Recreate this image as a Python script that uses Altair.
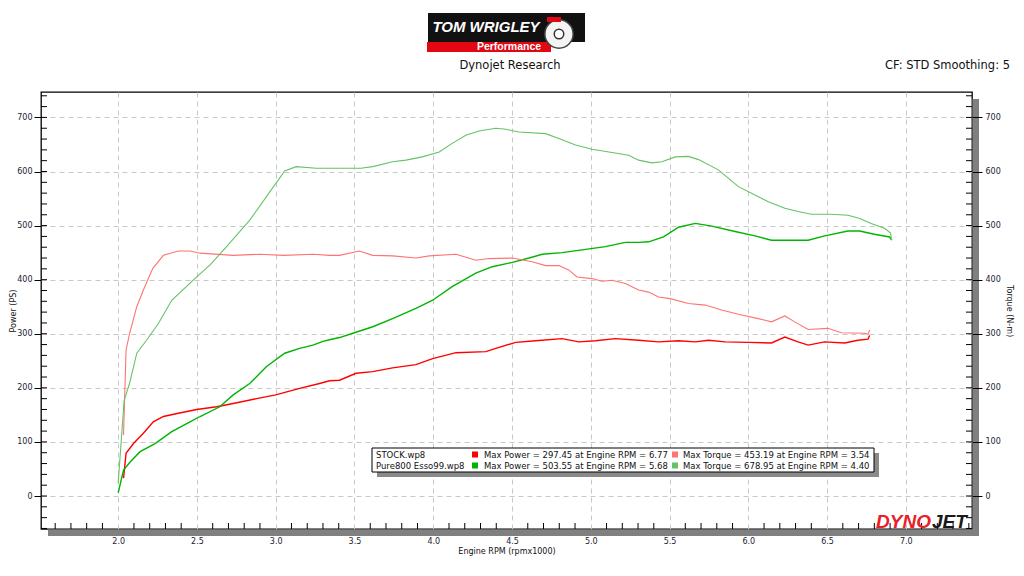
import altair as alt
import pandas as pd

# ---------------- data ----------------
series_names = ["STOCK Power", "Pure800 Power", "STOCK Torque", "Pure800 Torque"]
series_colors = ["#ff0000", "#00b400", "#ff7373", "#66c266"]

stock_power_rpm = [2.034, 2.05, 2.097, 2.16, 2.223, 2.287, 2.382, 2.498, 2.625, 2.73, 2.878, 3.0,
                   3.152, 3.278, 3.342, 3.405, 3.51, 3.616, 3.742, 3.89, 3.996, 4.144, 4.334, 4.397,
                   4.523, 4.65, 4.818, 4.924, 5.03, 5.156, 5.304, 5.43, 5.557, 5.663, 5.747, 5.853,
                   6.0, 6.147, 6.232, 6.316, 6.38, 6.485, 6.612, 6.696, 6.76, 6.77]
stock_power = [33, 79, 97, 116, 137, 147, 153, 160, 165, 171, 180, 187,
               199, 208, 213, 214, 227, 230, 237, 243, 254, 265, 267, 273,
               284, 287, 291, 285, 287, 291, 288, 285, 287, 285, 288, 285,
               284, 283, 294, 285, 279, 285, 283, 288, 290, 297]

stock_torque_rpm = [2.034, 2.05, 2.072, 2.118, 2.16, 2.22, 2.287, 2.382, 2.456, 2.52, 2.73, 2.90,
                    3.05, 3.24, 3.342, 3.405, 3.53, 3.616, 3.742, 3.89, 3.975, 4.144, 4.27, 4.354,
                    4.502, 4.628, 4.713, 4.797, 4.86, 4.913, 5.008, 5.07, 5.135, 5.22, 5.304, 5.367,
                    5.43, 5.504, 5.62, 5.726, 5.831, 5.937, 6.063, 6.147, 6.232, 6.295, 6.38, 6.506,
                    6.59, 6.738, 6.76, 6.77]
stock_torque = [113, 270, 300, 350, 381, 421, 445, 453, 453, 449, 445, 447,
                445, 447, 445, 445, 453, 445, 444, 440, 444, 447, 436, 439,
                440, 433, 426, 426, 418, 405, 402, 397, 399, 393, 381, 377,
                368, 365, 356, 353, 344, 336, 328, 322, 333, 322, 308, 310,
                302, 301, 299, 307]

pure_power_rpm = [2.0, 2.034, 2.076, 2.139, 2.234, 2.34, 2.456, 2.52, 2.645, 2.73, 2.835, 2.94,
                  3.057, 3.152, 3.236, 3.30, 3.342, 3.405, 3.49, 3.616, 3.742, 3.89, 3.996, 4.12,
                  4.27, 4.375, 4.502, 4.608, 4.692, 4.818, 4.945, 5.093, 5.22, 5.304, 5.367, 5.462,
                  5.557, 5.663, 5.768, 5.916, 6.042, 6.147, 6.38, 6.485, 6.633, 6.707, 6.80, 6.897, 6.91]
pure_power = [6, 48, 63, 82, 97, 119, 137, 147, 165, 187, 208, 239,
              264, 273, 279, 286, 289, 293, 301, 313, 328, 347, 362, 387,
              412, 424, 432, 440, 447, 450, 455, 461, 469, 469, 470, 479,
              497, 504, 499, 489, 481, 473, 473, 481, 490, 490, 484, 479, 473]

pure_torque_rpm = [2.0, 2.038, 2.072, 2.118, 2.18, 2.255, 2.34, 2.498, 2.582, 2.688, 2.835, 2.94,
                   3.057, 3.13, 3.258, 3.405, 3.54, 3.616, 3.742, 3.827, 3.93, 4.038, 4.12, 4.207,
                   4.29, 4.397, 4.46, 4.544, 4.713, 4.797, 4.903, 5.008, 5.135, 5.24, 5.304, 5.388,
                   5.452, 5.536, 5.62, 5.684, 5.81, 5.937, 6.02, 6.127, 6.232, 6.316, 6.40, 6.527,
                   6.633, 6.707, 6.78, 6.865, 6.903, 6.91]
pure_torque = [24, 177, 208, 264, 288, 319, 362, 405, 427, 461, 510, 553,
               601, 609, 606, 606, 606, 609, 618, 621, 627, 636, 652, 667,
               675, 680, 678, 673, 670, 661, 649, 641, 635, 630, 621, 616,
               618, 627, 628, 622, 603, 572, 560, 544, 532, 526, 521, 521,
               519, 513, 504, 495, 486, 473]

run_files = ["STOCK.wp8", "Pure800 Esso99.wp8"]
max_power = [297.45, 503.55]
max_power_rpm = [6.77, 5.68]
max_torque = [453.19, 678.95]
max_torque_rpm = [3.54, 4.40]

x_tick_values = [2.0, 2.5, 3.0, 3.5, 4.0, 4.5, 5.0, 5.5, 6.0, 6.5, 7.0]
y_tick_values = [0, 100, 200, 300, 400, 500, 600, 700]
x_minor = [k / 10 for k in range(16, 75) if k % 5 != 0]
y_minor = [k * 20 for k in range(-3, 38)]

# ---------------- layout ----------------
W, H = 931, 437
XDOM = [1.51, 7.42]
YDOM = [-61, 747]
FONT = "DejaVu Sans"
BOLD = "Liberation Sans"
LABEL_COLOR = "#1b1b33"

xscale = alt.Scale(domain=XDOM, nice=False, zero=False)
yscale = alt.Scale(domain=YDOM, nice=False, zero=False)
color_scale = alt.Scale(domain=series_names, range=series_colors)


def frame(rpm, vals, name):
    return pd.DataFrame({"rpm": rpm, "value": vals, "series": name})


power_df = pd.concat([frame(stock_power_rpm, stock_power, series_names[0]),
                      frame(pure_power_rpm, pure_power, series_names[1])])
torque_df = pd.concat([frame(stock_torque_rpm, stock_torque, series_names[2]),
                       frame(pure_torque_rpm, pure_torque, series_names[3])])

x_axis = alt.Axis(values=x_tick_values, format=".1f", grid=True, gridDash=[5, 4],
                  gridColor="#c8c8c8", gridWidth=1, ticks=False, domain=False,
                  labelPadding=8, labelFlush=False, title="Engine RPM (rpmx1000)",
                  titlePadding=2)

left_axis = alt.Axis(values=y_tick_values, grid=True, gridDash=[5, 4], gridColor="#c8c8c8",
                     gridWidth=1, tickSize=7, tickColor="#000", tickWidth=1, domain=False,
                     labelPadding=2, title="Power (PS)", titleX=-24, titleY=H / 2)

right_axis = alt.Axis(values=y_tick_values, orient="right", grid=False, tickSize=10,
                      tickColor="#000", tickWidth=1, domain=False, labelPadding=3,
                      title="Torque (N-m)", titlePadding=4, zindex=2)

X_ENC = dict(scale=xscale, axis=x_axis)
Y_ENC = dict(scale=yscale, axis=left_axis)

power_lines = alt.Chart(power_df).mark_line(strokeWidth=1.4).encode(
    x=alt.X("rpm:Q", **X_ENC),
    y=alt.Y("value:Q", **Y_ENC),
    color=alt.Color("series:N", scale=color_scale, legend=None),
    detail="series:N",
)

torque_lines = alt.Chart(torque_df).mark_line(strokeWidth=1.1).encode(
    x=alt.X("rpm:Q", **X_ENC),
    y=alt.Y("value:Q", scale=yscale, axis=right_axis),
    color=alt.Color("series:N", scale=color_scale, legend=None),
    detail="series:N",
)

# minor ticks (inside the frame)
ymin_df = pd.DataFrame({"v": y_minor})
xmin_df = pd.DataFrame({"v": x_minor})
left_minor = alt.Chart(ymin_df).mark_rule(color="#000", strokeWidth=1).encode(
    y=alt.Y("v:Q", **Y_ENC), x=alt.value(0), x2=alt.value(6))
right_minor = alt.Chart(ymin_df).mark_rule(color="#000", strokeWidth=1).encode(
    y=alt.Y("v:Q", **Y_ENC), x=alt.value(W - 6), x2=alt.value(W))
bottom_minor = alt.Chart(xmin_df).mark_rule(color="#000", strokeWidth=1).encode(
    x=alt.X("v:Q", **X_ENC), y=alt.value(H - 6), y2=alt.value(H))

one = pd.DataFrame({"k": [0]})


def box(x, x2, y, y2, **kw):
    return alt.Chart(one).mark_rect(**kw).encode(
        x=alt.value(x), x2=alt.value(x2), y=alt.value(y), y2=alt.value(y2))


def label(text, x, y, **kw):
    return alt.Chart(pd.DataFrame({"t": [text]})).mark_text(**kw).encode(
        x=alt.value(x), y=alt.value(y), text="t:N")


# frame shadow
shadow_bottom = box(7, W + 7, H + 0.5, H + 7, color="#808080")
shadow_right = box(W + 0.5, W + 7, 7, H + 7, color="#808080")

# header texts
title_txt = label("Dynojet Research", 469, -26, font=FONT, fontSize=11.5, color="#111",
                  align="center", baseline="middle")
cf_txt = label("CF: STD Smoothing: 5", 969, -26, font=FONT, fontSize=11.5, color="#111",
               align="right", baseline="middle")

# logo
logo_black = box(387, 544, -79, -50, color="#111111")
logo_red = box(386, 510, -50, -40, color="#e30613")
logo_disc = alt.Chart(one).mark_point(shape="circle", filled=True, size=800, color="#f4f4f4",
                                      stroke="#444", strokeWidth=1.5, opacity=1).encode(
    x=alt.value(518), y=alt.value(-58))
logo_hub = alt.Chart(one).mark_point(shape="circle", filled=True, size=90, color="#ffffff",
                                     stroke="#333", strokeWidth=1.5, opacity=1).encode(
    x=alt.value(518), y=alt.value(-58))
logo_caliper = box(506, 520, -75, -70, color="#e30613")
logo_name = label("TOM WRIGLEY", 445, -65, font=BOLD, fontSize=15, fontWeight="bold",
                  fontStyle="italic", color="#ffffff", align="center", baseline="middle")
logo_perf = label("Performance", 468, -45, font=BOLD, fontSize=10.5, fontWeight="bold",
                  color="#ffffff", align="center", baseline="middle")

# dynojet watermark
dyno_txt = label("DYNO", 890, 436, font=BOLD, fontSize=19, fontWeight="bold", fontStyle="italic",
                 color="#e8202a", align="right", baseline="alphabetic")
jet_txt = label("JET", 891, 436, font=BOLD, fontSize=19, fontWeight="bold", fontStyle="italic",
                color="#1a1a1a", align="left", baseline="alphabetic")

# legend box
LX, LX2, LY, LY2 = 331, 833, 356, 380
leg_shadow = box(LX + 5, LX2 + 5, LY + 5, LY2 + 5, color="#8a8a8a")
leg_box = box(LX, LX2, LY, LY2, color="#ffffff", stroke="#000", strokeWidth=1)
row_y = [362.5, 373.5]
legend_layers = [leg_shadow, leg_box]
for i in range(2):
    legend_layers.append(label(run_files[i], 335, row_y[i], font=FONT, fontSize=8.5,
                               color="#111", align="left", baseline="middle"))
    legend_layers.append(box(431, 437, row_y[i] - 3, row_y[i] + 3, color=series_colors[i]))
    legend_layers.append(label(f"Max Power = {max_power[i]:.2f} at Engine RPM = {max_power_rpm[i]:.2f}",
                               443, row_y[i], font=FONT, fontSize=8.5, color="#111",
                               align="left", baseline="middle"))
    legend_layers.append(box(631, 637, row_y[i] - 3, row_y[i] + 3, color=series_colors[i + 2]))
    legend_layers.append(label(f"Max Torque = {max_torque[i]:.2f} at Engine RPM = {max_torque_rpm[i]:.2f}",
                               642, row_y[i], font=FONT, fontSize=8.5, color="#111",
                               align="left", baseline="middle"))

left_group = alt.layer(
    shadow_bottom, shadow_right, left_minor, right_minor, bottom_minor, power_lines,
    title_txt, cf_txt, logo_black, logo_red, logo_disc, logo_hub, logo_caliper,
    logo_name, logo_perf, dyno_txt, jet_txt, *legend_layers,
)
right_group = alt.layer(torque_lines)

chart = alt.layer(left_group, right_group).resolve_scale(y="independent").properties(
    width=W, height=H,
    padding={"left": 33, "top": 84, "right": 44, "bottom": 31},
    autosize=alt.AutoSizeParams(type="none"),
    background="white",
).configure_view(
    stroke="#000", strokeWidth=1.3
).configure_axis(
    labelFont=FONT, titleFont=FONT, labelFontSize=8, titleFontSize=8,
    titleFontWeight="normal", labelColor=LABEL_COLOR, titleColor="#111",
)

chart.save("out.html", embed_options={"renderer": "svg", "actions": False})
